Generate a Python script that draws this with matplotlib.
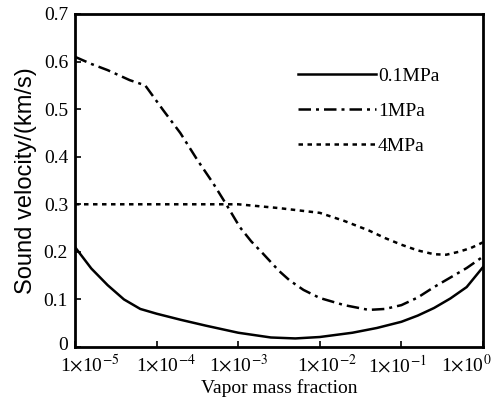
import numpy as np
import matplotlib
matplotlib.use("Agg")
import matplotlib.pyplot as plt
import matplotlib.transforms as mtransforms
from matplotlib.ticker import NullLocator

plt.rcParams['font.family'] = ['Liberation Serif', 'DejaVu Serif']
plt.rcParams['mathtext.fontset'] = 'stix'

# log10 of vapor mass fraction and sound velocity (km/s)
x_01 = [-5.0, -4.8, -4.6, -4.4, -4.2, -4.0, -3.7, -3.4, -3.0, -2.6, -2.3, -2.0,
        -1.6, -1.3, -1.0, -0.8, -0.6, -0.4, -0.2, 0.0]
v_01 = [0.21, 0.165, 0.13, 0.10, 0.08, 0.07, 0.057, 0.045, 0.03, 0.02, 0.018, 0.021,
        0.030, 0.040, 0.053, 0.066, 0.082, 0.102, 0.126, 0.168]

x_1 = [-5.0, -4.8, -4.6, -4.33, -4.14, -3.92, -3.71, -3.5, -3.31, -3.14, -2.98,
       -2.84, -2.7, -2.5, -2.37, -2.2, -2.0, -1.7, -1.4, -1.2, -1.0, -0.8,
       -0.6, -0.4, -0.2, 0.0]
v_1 = [0.61, 0.595, 0.582, 0.561, 0.55, 0.498, 0.45, 0.393, 0.345, 0.298, 0.252,
       0.222, 0.197, 0.16, 0.14, 0.12, 0.103, 0.088, 0.078, 0.080, 0.088, 0.104,
       0.126, 0.146, 0.166, 0.19]

x_4 = [-5.0, -4.0, -3.0, -2.5, -2.0, -1.7, -1.4, -1.2, -1.0, -0.8, -0.6, -0.45,
       -0.3, -0.15, 0.0]
v_4 = [0.30, 0.30, 0.30, 0.292, 0.282, 0.265, 0.245, 0.229, 0.215, 0.203, 0.195, 0.194,
       0.200, 0.208, 0.22]

x_ticks = [1e-5, 1e-4, 1e-3, 1e-2, 1e-1, 1e0]
x_tick_labels = [r'1$\times$10$^{-5}$', r'1$\times$10$^{-4}$', r'1$\times$10$^{-3}$',
                 r'1$\times$10$^{-2}$', r'1$\times$10$^{-1}$', r'1$\times$10$^{0}$']
y_ticks = [0, 0.1, 0.2, 0.3, 0.4, 0.5, 0.6, 0.7]
y_tick_labels = ['0', '0.1', '0.2', '0.3', '0.4', '0.5', '0.6', '0.7']

fig = plt.figure(figsize=(4.99, 4.12), dpi=100)
ax = fig.add_axes([75 / 499, 65 / 412, 408 / 499, 333 / 412])

ax.plot(10 ** np.array(x_01), v_01, color='black', lw=1.8, ls='-', label='0.1MPa')
ax.plot(10 ** np.array(x_1), v_1, color='black', lw=1.8, ls=(0, (5, 2, 1.2, 2)), label='1MPa')
ax.plot(10 ** np.array(x_4), v_4, color='black', lw=1.8, ls=(0, (1.8, 1.8)), label='4MPa')

ax.set_xscale('log')
ax.set_xlim(1e-5, 1e0)
ax.set_ylim(0, 0.7)
ax.set_xticks(x_ticks)
ax.set_xticklabels(x_tick_labels)
ax.xaxis.set_minor_locator(NullLocator())
ax.set_yticks(y_ticks)
ax.set_yticklabels(y_tick_labels)

ax.tick_params(direction='in', length=4, width=1.2, labelsize=14, pad=5)
for s in ax.spines.values():
    s.set_linewidth(2)

# the tick labels in the original sit slightly off centre
shifts = [15, 9, 0, 7, -4, -17]
for lab, dx in zip(ax.get_xticklabels(), shifts):
    lab.set_transform(lab.get_transform() +
                      mtransforms.ScaledTranslation(dx / 100, 0, fig.dpi_scale_trans))
zero_lab = ax.get_yticklabels()[0]
zero_lab.set_transform(zero_lab.get_transform() +
                       mtransforms.ScaledTranslation(0, 4 / 100, fig.dpi_scale_trans))

ax.set_xlabel('Vapor mass fraction', fontsize=14, labelpad=2)
ax.set_ylabel('Sound velocity/(km/s)', fontsize=17, labelpad=5,
              family=['Liberation Sans', 'DejaVu Sans'])

ax.legend(loc='upper left', bbox_to_anchor=(0.547, 0.84), frameon=False, fontsize=14,
          handlelength=4.0, handletextpad=0.1, labelspacing=0.9, borderpad=0,
          borderaxespad=0)

fig.savefig('out.png', dpi=100)
